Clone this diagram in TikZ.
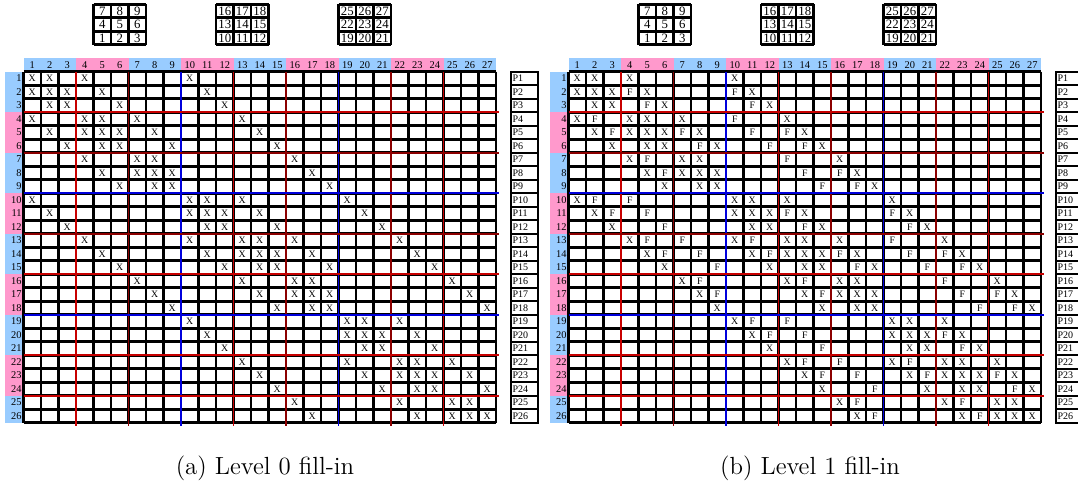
\documentclass[tikz,border=0pt]{standalone}
\usepackage{fontspec}
\usepackage{tikz}
\usetikzlibrary{positioning}
\newfontfamily\timesfont{Liberation Serif}

\definecolor{hdrblue}{RGB}{153,204,255}
\definecolor{hdrpink}{RGB}{255,153,204}
\definecolor{blkred}{RGB}{200,0,0}
\definecolor{blkdark}{RGB}{140,0,0}
\definecolor{blkblue}{RGB}{0,0,220}

% nonzeros of the 27-point matrix (row/columns)
\newcommand{\xentries}{1/{1,2,4,10},2/{1,2,3,5,11},3/{2,3,6,12},4/{1,4,5,7,13},
  5/{2,4,5,6,8,14},6/{3,5,6,9,15},7/{4,7,8,16},8/{5,7,8,9,17},9/{6,8,9,18},
  10/{1,10,11,13,19},11/{2,10,11,12,14,20},12/{3,11,12,15,21},13/{4,10,13,14,16,22},
  14/{5,11,13,14,15,17,23},15/{6,12,14,15,18,24},16/{7,13,16,17,25},
  17/{8,14,16,17,18,26},18/{9,15,17,18,27},19/{10,19,20,22},20/{11,19,20,21,23},
  21/{12,20,21,24},22/{13,19,22,23,25},23/{14,20,22,23,24,26},24/{15,21,23,24,27},
  25/{16,22,25,26},26/{17,23,25,26,27}}
% level 1 fill-in
\newcommand{\fentries}{2/{4,10},3/{5,11},4/{2,10},5/{3,7,11,13},6/{8,12,14},7/{5,13},
  8/{6,14,16},9/{15,17},10/{2,4},11/{3,5,13,19},12/{6,14,20},13/{5,7,11,19},
  14/{6,8,12,16,20,22},15/{9,17,21,23},16/{8,14,22},17/{9,15,23,25},18/{24,26},
  19/{11,13},20/{12,14,22},21/{15,23},22/{14,16,20},23/{15,17,21,25},24/{18,26},
  25/{17,23},26/{18,24}}

\begin{document}
\begin{tikzpicture}[x=0.5pt,y=-0.5pt,
    gridline/.style={line width=1.3pt,black},
    blockline/.style={line width=0.85pt},
    entry/.style={font=\timesfont\fontsize{4.9}{5}\selectfont,inner sep=0pt},
    hdrnum/.style={font=\timesfont\fontsize{5.2}{6}\selectfont,inner sep=0pt},
    rownum/.style={hdrnum,anchor=east},
    mininum/.style={font=\timesfont\fontsize{6.4}{7}\selectfont,inner sep=0pt},
    pbox/.style={draw,line width=0.8pt,minimum width=13.5pt,minimum height=6.75pt,
        inner sep=0pt,text width=12pt,align=left,font=\timesfont\fontsize{5}{6}\selectfont},
    caption/.style={font=\fontsize{12.4}{14}\selectfont,inner sep=0pt}
]
\useasboundingbox (0,0) rectangle (1078,494);
\clip (0,0) rectangle (1078,494);
\foreach \ox/\tag/\lvl in {0/a/0,545/b/1}{
  % colour bands
  \foreach \g/\col in {0/hdrblue,1/hdrpink,2/hdrblue,3/hdrpink,4/hdrblue,5/hdrpink,6/hdrblue,7/hdrpink,8/hdrblue}{
    \fill[\col] (\ox+23.5+\g*52.5,58.2) rectangle ++(52.5,13.5);
  }
  \foreach \g/\col/\h in {0/hdrblue/40.5,1/hdrpink/40.5,2/hdrblue/40.5,3/hdrpink/40.5,4/hdrblue/40.5,5/hdrpink/40.5,6/hdrblue/40.5,7/hdrpink/40.5,8/hdrblue/27}{
    \fill[\col] (\ox+5,71.7+\g*40.5) rectangle ++(18.5,\h);
  }
  \foreach \c in {1,...,27}
    \node[hdrnum] (h\tag\c) at (\ox+23.5+\c*17.5-8.75,65) {\c};
  \foreach \r in {1,...,26}
    \node[rownum] (r\tag\r) at (\ox+22,71.7+\r*13.5-6.75) {\r};
  % cells
  \foreach \c in {0,...,27}
    \draw[gridline] (\ox+23.5+\c*17.5,71.7) -- ++(0,351);
  \foreach \r in {0,...,26}
    \draw[gridline] (\ox+23.5,71.7+\r*13.5) -- ++(472.5,0);
  \foreach \c/\col in {3/blkred,6/blkdark,9/blkblue,12/blkred,15/blkdark,18/blkblue,21/blkdark,24/blkred}
    \draw[blockline,\col] (\ox+23.5+\c*17.5,71.7) -- ++(0,354);
  \foreach \r/\col in {3/blkred,6/blkdark,9/blkblue,12/blkdark,15/blkred,18/blkblue,21/blkred,24/blkred}
    \draw[blockline,\col] (\ox+23.5,71.7+\r*13.5) -- ++(475,0);
  \foreach \r/\cols in \xentries
    \foreach \c in \cols
      \node[entry] (X\tag-\r-\c) at (\ox+23.5+\c*17.5-8.75,71.7+\r*13.5-6.75) {X};
  % row names
  \foreach \r in {1,...,26}
    \node[pbox] (p\tag\r) at (\ox+524.5,71.7+\r*13.5-6.75) {P\r};
  % 3x3 planes
  \foreach \m/\base in {0/0,1/9,2/18}{
    \foreach \k in {0,...,3}{
      \draw[gridline] (\ox+23.5+\m*122.5+70+\k*17.5,4.2) -- ++(0,40.5);
      \draw[gridline] (\ox+23.5+\m*122.5+70,4.2+\k*13.5) -- ++(52.5,0);
    }
    \foreach \i in {0,1,2}
      \foreach \j in {0,1,2}{
        \pgfmathtruncatemacro\v{\base+(2-\i)*3+\j+1}
        \node[mininum] (m\tag\v) at (\ox+23.5+\m*122.5+70+\j*17.5+8.75,4.2+\i*13.5+6.75) {\v};
      }
  }
  \node[caption] (cap\tag) at (\ox+265,468) {(\tag) Level \lvl\ fill-in};
}
\foreach \r/\cols in \fentries
  \foreach \c in \cols
    \node[entry] (F-\r-\c) at (545+23.5+\c*17.5-8.75,71.7+\r*13.5-6.75) {F};
\end{tikzpicture}
\end{document}
